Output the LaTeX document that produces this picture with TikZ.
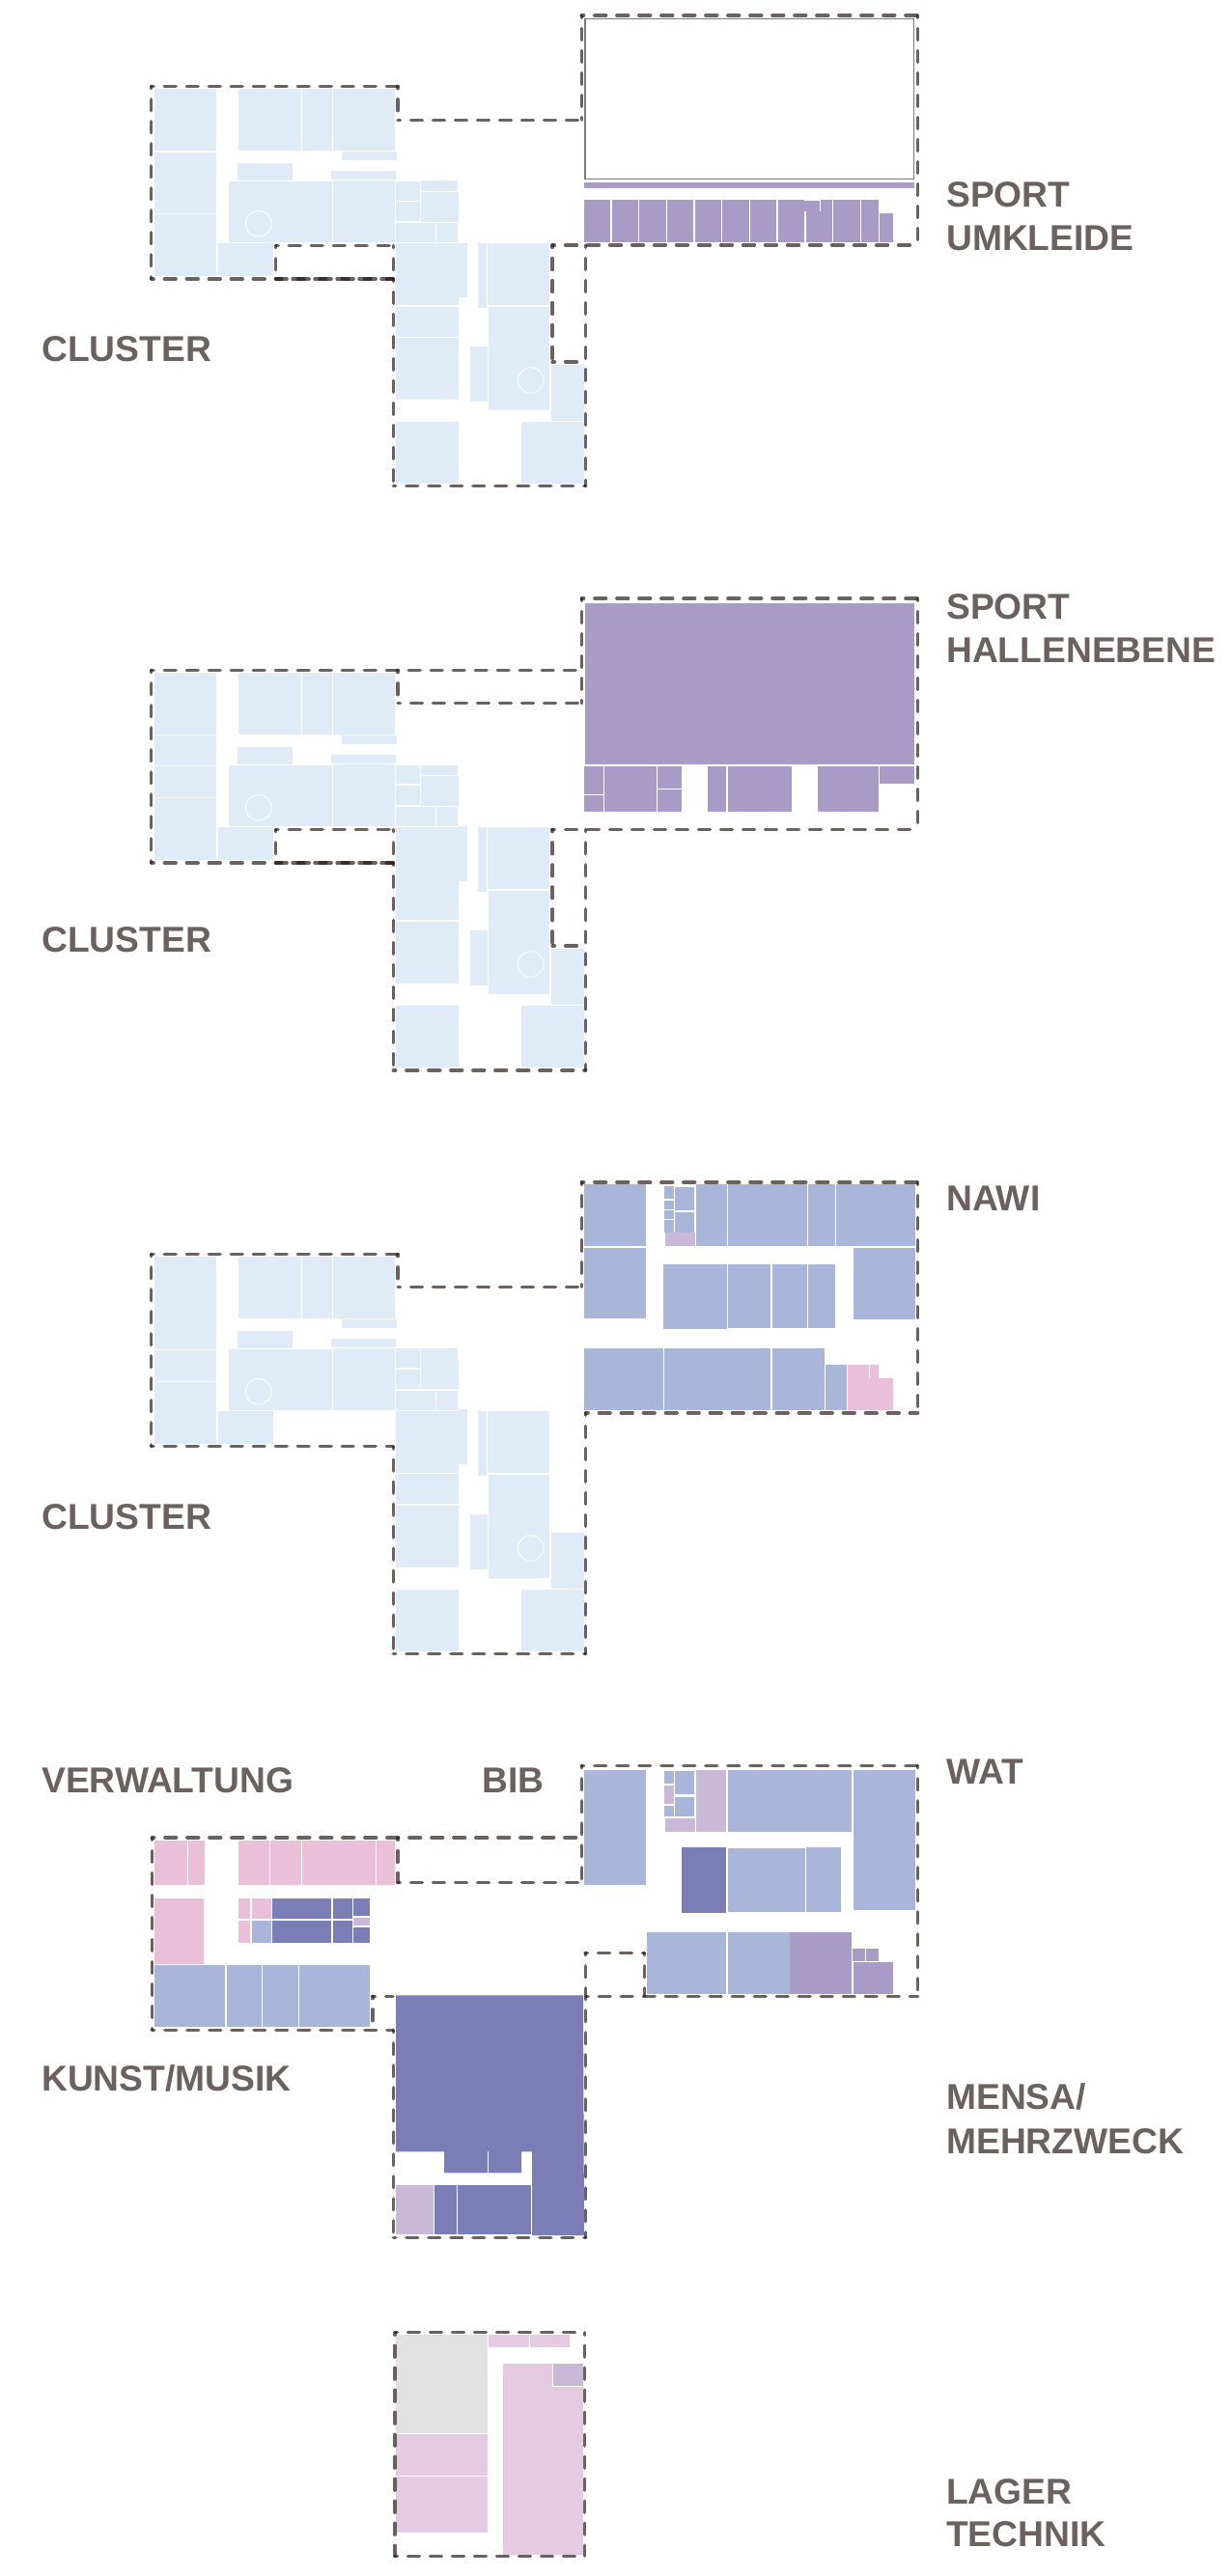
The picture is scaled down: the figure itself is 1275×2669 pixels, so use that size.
\documentclass[tikz,border=0pt]{standalone}
\usepackage{fontspec}
\setmainfont{Liberation Sans}
\definecolor{cl}{HTML}{DFECF8}
\definecolor{lav}{HTML}{A89CC6}
\definecolor{blu}{HTML}{A9B6D9}
\definecolor{drk}{HTML}{7B7EB5}
\definecolor{mau}{HTML}{C9B8D6}
\definecolor{pnk}{HTML}{EAC0D8}
\definecolor{lpk}{HTML}{E4CBE1}
\definecolor{gry}{HTML}{E2E1E2}
\definecolor{dashc}{RGB}{37,24,20}
\definecolor{txt}{HTML}{6B625F}
\newcommand{\rb}[5]{\fill[#1] (#2,#3) rectangle (#4,#5);}
\newcommand{\ds}[4]{\draw[dline] (#1,#2) -- (#3,#4);}
\newcommand{\clusterbase}{%
 \rb{cl}{247}{92}{312.3}{156}\rb{cl}{313}{92}{344}{156}\rb{cl}{345}{92}{409}{156}
 \rb{cl}{354}{157.3}{411}{166}\rb{cl}{246}{169}{303}{187}\rb{cl}{343}{177}{410}{186}
 \rb{cl}{237}{188}{344}{251}\rb{cl}{345}{187.3}{409}{251}
 \rb{cl}{409.7}{231}{451}{251}\rb{cl}{452}{231}{474}{251}
 \rb{cl}{226}{252.3}{283}{286}
 \rb{cl}{409.7}{350.3}{475}{414}\rb{cl}{409.7}{437.3}{475}{501}
 \rb{cl}{495}{252}{504}{319}\rb{cl}{505}{252.3}{569}{315.7}
 \rb{cl}{506}{318}{569}{425}\rb{cl}{487}{359}{505}{416}
 \rb{cl}{571}{378}{605}{435.7}\rb{cl}{540}{437}{605}{501}
 \rb{cl}{409.7}{208.5}{435}{229.3}
 \draw[circ] (267.7,231.7) circle (13.3);
 \draw[circ] (549.7,394) circle (13.3);
}
\tikzset{
 dline/.style={draw=dashc,opacity=.68,line width=3.3pt,line cap=round,dash pattern=on 12pt off 11pt,dash phase=9.5pt},
 dlinein/.style={dline,dash phase=5.8pt},
 circ/.style={draw=white,line width=.8pt},
 lbl/.style={anchor=base west,inner sep=0pt,text=txt,font=\fontsize{37.2}{37.2}\selectfont\bfseries}
}
\begin{document}
\begin{tikzpicture}[x=1pt,y=-1pt]
\useasboundingbox (0,0) rectangle (1275,2669);
\fill[white] (0,0) rectangle (1275,2669);

% ---------- panel 1
\begin{scope}
 \clusterbase
 \rb{cl}{160}{92}{224}{156}\rb{cl}{160}{158}{224}{221}\rb{cl}{160}{222}{224}{286}
 \rb{cl}{409.7}{188.3}{435}{208}
 \rb{cl}{436}{187.3}{474}{198}\rb{cl}{436}{199.3}{475}{230}
 \rb{cl}{409.7}{252.3}{475}{315.7}\rb{cl}{475}{252.3}{484}{308}
 \rb{cl}{409.7}{318}{475}{349}
 \draw[draw=gray!85!txt,line width=1.3pt] (606,19.3) rectangle (946.7,185.3);
 \rb{lav}{605}{189.3}{947}{195}
 \rb{lav}{605}{207.3}{632}{251}\rb{lav}{634}{207.3}{661}{251}\rb{lav}{662}{207.3}{690}{251}
 \rb{lav}{691}{207.3}{718}{251}\rb{lav}{720}{207.3}{747}{251}\rb{lav}{748}{207.3}{776}{251}
 \rb{lav}{777}{207.3}{804}{251}\rb{lav}{806}{207.3}{833}{251}\rb{lav}{818}{208.3}{849}{219}
 \rb{lav}{835}{219}{862}{251}\rb{lav}{850}{207.3}{862}{219}
 \rb{lav}{863}{207.3}{891}{251}\rb{lav}{892}{207.3}{910}{251}\rb{lav}{911}{221}{925}{251}
 \ds{156.7}{89.3}{412}{89.3}\ds{412}{89.3}{412}{124.3}\ds{412}{124.3}{602.3}{124.3}
 \ds{602.3}{16}{602.3}{124.3}\ds{602.3}{16}{950.7}{16}\ds{950.7}{16}{950.7}{254}
 \ds{572}{254}{950.7}{254}\ds{572}{254}{572}{375}\ds{572}{375}{606.7}{375}
 \ds{606.7}{254}{606.7}{503.7}\ds{407.3}{503.7}{606.7}{503.7}\ds{407.3}{289}{407.3}{503.7}
 \ds{407.3}{254.3}{407.3}{289}\ds{285.7}{254.3}{407.3}{254.3}\ds{285.7}{254.3}{285.7}{289}
 \draw[dlinein] (285.7,289) -- (407.3,289);
 \ds{156.7}{289}{407.3}{289}\ds{156.7}{89.3}{156.7}{289}
\end{scope}

% ---------- panel 2
\begin{scope}[shift={(0,605)}]
 \clusterbase
 \rb{cl}{160}{92}{224}{156}\rb{cl}{160}{157}{224}{188}\rb{cl}{160}{189}{224}{221}\rb{cl}{160}{222}{224}{286}
 \rb{cl}{409.7}{188}{435}{207}
 \rb{cl}{436}{188}{474}{198}\rb{cl}{436}{199.3}{475}{230}
 \rb{cl}{409.7}{252}{475}{348}\rb{cl}{475}{251}{484}{308}
 \ds{156.7}{89.3}{602.3}{89.3}\ds{412}{89.3}{412}{123.7}\ds{412}{123.7}{602.3}{123.7}
 \ds{602.3}{15}{602.3}{123.7}
 \ds{602.3}{15}{950.7}{15}\ds{950.7}{15}{950.7}{254.3}
 \ds{572}{254.3}{950.7}{254.3}\ds{572}{254.3}{572}{375}\ds{572}{375}{606.7}{375}
 \ds{606.7}{254.3}{606.7}{504}\ds{407.3}{504}{606.7}{504}\ds{407.3}{289}{407.3}{504}
 \ds{407.3}{254.3}{407.3}{289}\ds{285.7}{254.3}{407.3}{254.3}\ds{285.7}{254.3}{285.7}{289}
 \draw[dlinein] (285.7,289) -- (407.3,289);
 \ds{156.7}{289}{407.3}{289}\ds{156.7}{89.3}{156.7}{289}
\end{scope}
\rb{lav}{606}{625.3}{947}{792.3}
\rb{lav}{605}{794}{625}{823}\rb{lav}{605}{824.3}{625}{841}
\rb{lav}{626}{794}{680}{841}
\rb{lav}{681}{794}{706}{817}\rb{lav}{681}{818.3}{706}{841}
\rb{lav}{733}{794}{752}{841}\rb{lav}{754}{794}{820}{841}\rb{lav}{847}{794}{910}{841}
\rb{lav}{911}{794}{947}{812}

% ---------- panel 3
\begin{scope}[shift={(0,1210)}]
 \clusterbase
 \rb{cl}{160}{92}{224}{188}\rb{cl}{160}{189}{224}{221}\rb{cl}{160}{222}{224}{286}
 \rb{cl}{409.7}{187.3}{435}{207}
 \rb{cl}{436}{187.3}{474}{198}\rb{cl}{436}{198}{475}{229.3}
 \rb{cl}{409.7}{252.3}{475}{316}\rb{cl}{475}{250}{484}{307}
 \rb{cl}{409.7}{317}{475}{348}
 \ds{156.7}{89.3}{412}{89.3}\ds{412}{89.3}{412}{123.3}\ds{412}{123.3}{602.3}{123.3}
 \ds{602.3}{15}{602.3}{123.3}\ds{602.3}{15}{950.7}{15}\ds{950.7}{15}{950.7}{254}
 \ds{606.7}{254}{950.7}{254}\ds{606.7}{254}{606.7}{503.7}\ds{407.3}{503.7}{606.7}{503.7}
 \ds{407.3}{288.7}{407.3}{503.7}\ds{156.7}{288.7}{407.3}{288.7}\ds{156.7}{89.3}{156.7}{288.7}
\end{scope}
\rb{blu}{605}{1227.3}{669}{1291}\rb{blu}{605}{1293.3}{669}{1366}
\rb{blu}{688}{1229.3}{698}{1242.3}\rb{blu}{688}{1243.7}{698}{1252.7}\rb{blu}{688}{1254.3}{698}{1263}\rb{blu}{688}{1264.3}{698}{1277.3}
\rb{blu}{699}{1230.3}{719}{1254.3}\rb{blu}{699}{1256.3}{719}{1277.3}
\rb{mau}{689}{1277.3}{720}{1291}
\rb{blu}{721}{1227.3}{753}{1291}\rb{blu}{754}{1227.3}{836.3}{1291}\rb{blu}{837}{1227.3}{865}{1291}\rb{blu}{866}{1227.3}{948}{1291}
\rb{blu}{884}{1293.3}{948}{1367}
\rb{blu}{687}{1310.3}{753}{1377}\rb{blu}{754}{1310.3}{798}{1376}\rb{blu}{800}{1310.3}{836}{1376}\rb{blu}{837}{1310.3}{865}{1376}
\rb{blu}{605}{1397.3}{687}{1461}\rb{blu}{688}{1397.3}{798}{1461}\rb{blu}{800}{1397.3}{854}{1461}\rb{blu}{855}{1414}{877}{1461}
\fill[pnk] (878,1414) -- (900,1414) -- (900,1428) -- (901,1428) -- (901,1414) -- (910,1414) -- (910,1428) -- (925,1428) -- (925,1461) -- (878,1461) -- cycle;

% ---------- panel 4
\rb{blu}{605}{1834.3}{669}{1953.3}
\rb{blu}{688}{1835.3}{698}{1848.3}\rb{mau}{688}{1850}{698}{1869.3}\rb{blu}{688}{1870.7}{698}{1882.3}
\rb{blu}{699}{1835.3}{719}{1859.3}\rb{blu}{699}{1862.3}{719}{1882.3}
\rb{mau}{689}{1884.3}{720}{1898.3}\rb{mau}{721}{1834.3}{752}{1898.3}
\rb{blu}{754}{1834.3}{882}{1898.3}\rb{blu}{884}{1834.3}{948}{1979}
\rb{drk}{706}{1914.3}{752}{1982.3}\rb{blu}{754}{1915.3}{834}{1981.3}\rb{blu}{835}{1914.3}{871}{1981.3}
\rb{blu}{670}{2002.3}{752}{2066}\rb{blu}{754}{2002.3}{818}{2066}\rb{lav}{818}{2002.3}{882}{2066}
\rb{lav}{883}{2019.3}{896}{2032}\rb{lav}{897}{2019.3}{910}{2032}\rb{lav}{884}{2033.3}{925}{2066}

\rb{pnk}{160}{1907.3}{194}{1953}\rb{pnk}{195}{1907.3}{212}{1953}\rb{pnk}{247}{1907.3}{279}{1953}
\rb{pnk}{280}{1907.3}{312}{1953}\rb{pnk}{313}{1907.3}{389}{1953}\rb{pnk}{390}{1907.3}{409}{1953}
\rb{pnk}{160}{1967.3}{211}{2035}
\rb{pnk}{247}{1967.3}{259}{1988.3}\rb{pnk}{247}{1989.7}{259}{2013.3}
\rb{pnk}{261}{1967.3}{281}{1988.3}\rb{blu}{261}{1989.7}{281}{2013.3}
\rb{drk}{282}{1967.3}{343}{1988.3}\rb{drk}{282}{1989.7}{343}{2013.3}
\rb{drk}{345}{1967.3}{365}{1988.3}\rb{drk}{345}{1989.7}{365}{2013.3}
\rb{drk}{366}{1967.3}{383}{1985.3}\rb{mau}{366}{1986.7}{383}{1995.3}\rb{drk}{366}{1996.7}{383}{2013.3}
\rb{blu}{160}{2036.3}{233}{2100}\rb{blu}{235}{2036.3}{271}{2100}\rb{blu}{272}{2036.3}{309}{2100}\rb{blu}{310}{2036.3}{383}{2100}

\fill[drk] (410,2067.3) -- (604,2067.3) -- (605,2316) -- (551,2316) -- (551,2229.3) -- (540,2229.3) -- (540,2251.3) -- (460,2251.3) -- (460,2229.3) -- (410,2229.3) -- cycle;
\draw[white,line width=.8pt] (505.7,2229.3) -- (505.7,2251.3);
\rb{mau}{410}{2264.3}{449}{2315.3}\rb{drk}{450}{2264.3}{473}{2315.3}\rb{drk}{474}{2264.3}{550}{2315.3}

\ds{157.3}{1904}{602.3}{1904}\ds{412}{1904}{412}{1950.7}\ds{412}{1950.7}{602.3}{1950.7}
\ds{602.3}{1829.3}{602.3}{1950.7}\ds{602.3}{1829.3}{950.7}{1829.3}\ds{950.7}{1829.3}{950.7}{2068.3}
\ds{606}{2023.3}{667.3}{2023.3}\ds{667.3}{2023.3}{667.3}{2068.3}\ds{606.7}{2068.3}{950.7}{2068.3}
\ds{606.7}{2023.3}{606.7}{2318.3}\ds{407.3}{2318.3}{606.7}{2318.3}
\ds{407.3}{2103.3}{407.3}{2318.3}\ds{386}{2068.3}{407}{2068.3}\ds{386}{2068.3}{386}{2103.3}
\ds{157.3}{2103.3}{407.3}{2103.3}\ds{157.3}{1904}{157.3}{2103.3}

% ---------- panel 5
\rb{gry}{410}{2418.7}{505}{2521}
\rb{lpk}{410}{2522.3}{505}{2564.7}\rb{lpk}{410}{2566.3}{505}{2624.3}
\rb{lpk}{506}{2418.7}{547.7}{2432}\rb{lpk}{549}{2418.7}{590}{2432}
\rb{lpk}{521.3}{2448.7}{604}{2647}
\rb{white}{572}{2448.7}{604}{2473}\rb{mau}{573}{2448.7}{604}{2471.7}
\ds{409}{2416.7}{605.3}{2416.7}\ds{605.3}{2416.7}{605.3}{2648.3}
\ds{409}{2648.3}{605.3}{2648.3}\ds{409}{2416.7}{409}{2648.3}

% ---------- labels
\node[lbl] (l1) at (43,374) {CLUSTER};
\node[lbl] (l2) at (43,986) {CLUSTER};
\node[lbl] (l3) at (43,1584) {CLUSTER};
\node[lbl] (l4) at (980,214) {SPORT};
\node[lbl] (l5) at (980,259.5) {UMKLEIDE};
\node[lbl] (l6) at (980,641.5) {SPORT};
\node[lbl] (l7) at (980,686) {HALLENEBENE};
\node[lbl] (l8) at (980,1254.5) {NAWI};
\node[lbl] (l9) at (43,1857) {VERWALTUNG};
\node[lbl] (l10) at (499,1857) {BIB};
\node[lbl] (l11) at (980,1848) {WAT};
\node[lbl] (l12) at (43,2166.5) {KUNST/MUSIK};
\node[lbl] (l13) at (980,2185) {MENSA/};
\node[lbl] (l14) at (980,2231) {MEHRZWECK};
\node[lbl] (l15) at (980,2594) {LAGER};
\node[lbl] (l16) at (980,2638) {TECHNIK};
\end{tikzpicture}
\end{document}
